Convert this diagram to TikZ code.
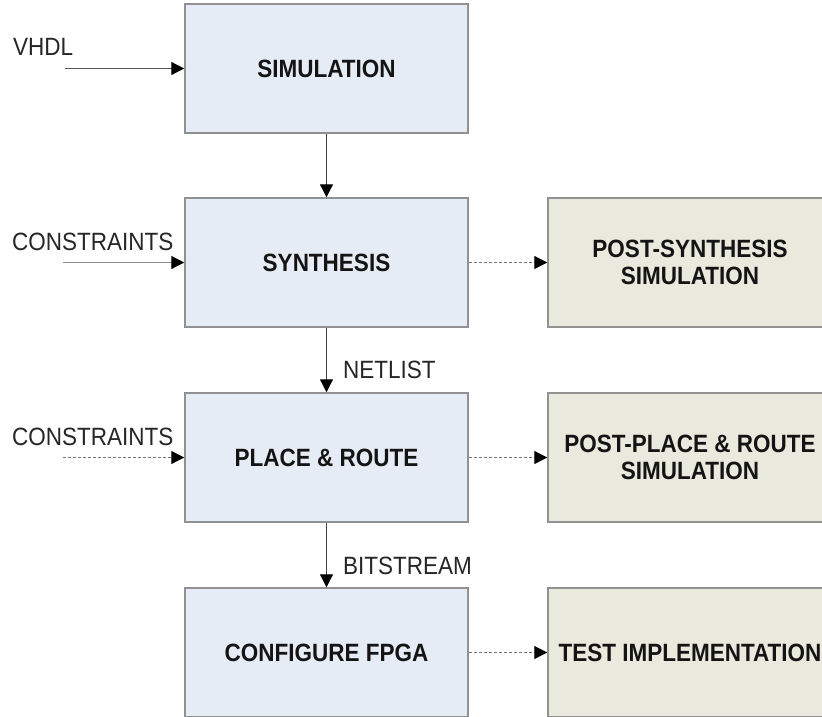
\documentclass[tikz,border=0pt]{standalone}
\usepackage{fontspec}
\setmainfont{Liberation Sans}[FakeStretch=0.9]
\usetikzlibrary{arrows.meta}
\definecolor{leftfill}{RGB}{230,236,246}
\definecolor{rightfill}{RGB}{233,233,222}
\definecolor{boxline}{RGB}{145,145,145}
\begin{document}
\begin{tikzpicture}[x=1pt,y=-1pt,
  box/.style={draw=boxline,line width=1.5pt,minimum width=283pt,minimum height=129pt,inner sep=0pt,align=center,
    font=\fontsize{25}{27}\selectfont\bfseries,text=black!92},
  leftbox/.style={box,fill=leftfill},
  rightbox/.style={box,fill=rightfill,minimum width=284pt},
  lbl/.style={anchor=west,inner sep=0pt,font=\fontsize{25}{27}\selectfont,text=black!85},
  arr/.style={draw=black!75,line width=1.2pt,-{Triangle[length=13pt,width=13pt,color=black]}},
  dotarr/.style={arr,draw=black!55,dash pattern=on 3pt off 2pt}]
\useasboundingbox (0,0) rectangle (822,716);
\clip (0,0) rectangle (822,716);
\fill[white] (0,0) rectangle (822,716);
% left column
\node[leftbox] (sim) at (326.5,68.5) {SIMULATION};
\node[leftbox] (syn) at (326.5,262.5) {SYNTHESIS};
\node[leftbox] (par) at (326.5,457.5) {PLACE \& ROUTE};
\node[leftbox] (cfg) at (326.5,652.5) {CONFIGURE FPGA};
% right column
\node[rightbox] (psyn) at (690,262.5) {POST-SYNTHESIS\\SIMULATION};
\node[rightbox] (ppar) at (690,457.5) {POST-PLACE \& ROUTE\\SIMULATION};
\node[rightbox] (test) at (690,652.5) {TEST IMPLEMENTATION};
% input labels
\node[lbl] (vhdl) at (13,47) {VHDL};
\node[lbl] (con1) at (12,242) {CONSTRAINTS};
\node[lbl] (con2) at (12,437) {CONSTRAINTS};
\node[lbl] (net) at (343,370) {NETLIST};
\node[lbl] (bit) at (343,566) {BITSTREAM};
\coordinate (in1) at (65,68.5);
\coordinate (in2) at (63,262.5);
\coordinate (in3) at (63,457.5);
% connectors
\draw[arr,draw=black!65] (in1) -- (sim.west);
\draw[arr,draw=black!45] (in2) -- (syn.west);
\draw[dotarr] (in3) -- (par.west);
\draw[arr] (sim.south) -- (syn.north);
\draw[arr] (syn.south) -- (par.north);
\draw[arr] (par.south) -- (cfg.north);
\draw[dotarr] (syn.east) -- (psyn.west);
\draw[dotarr] (par.east) -- (ppar.west);
\draw[dotarr] (cfg.east) -- (test.west);
\end{tikzpicture}
\end{document}
